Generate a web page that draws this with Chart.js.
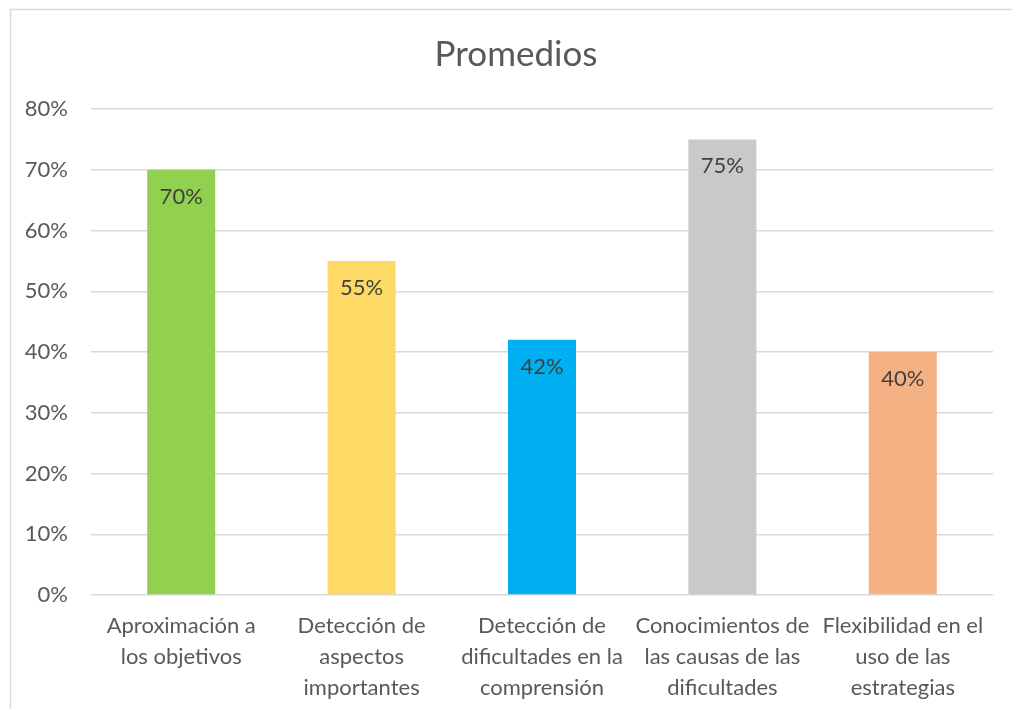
<!DOCTYPE html>
<html>
<head>
<meta charset="utf-8">
<script src="https://cdn.jsdelivr.net/npm/chart.js@4/dist/chart.umd.min.js"></script>
<style>
  html, body { margin: 0; padding: 0; background: #ffffff; }
  #wrap { position: relative; width: 1012px; height: 709px; }
</style>
</head>
<body>
<div id="wrap"><canvas id="promediosChart"></canvas></div>
<script>
// Promedios por dimensión (porcentaje)
const titulo = 'Promedios';
const categorias = [
    ['Aproximación a', 'los objetivos'],
    ['Detección de', 'aspectos', 'importantes'],
    ['Detección de', 'dificultades en la', 'comprensión'],
    ['Conocimientos de', 'las causas de las', 'dificultades'],
    ['Flexibilidad en el', 'uso de las', 'estrategias']
];
const promedios = [70, 55, 42, 75, 40];
const colores = ['#92D050', '#FFD966', '#00B0F0', '#C9C9C9', '#F4B183'];
const ejeMax = 80;
const ejePaso = 10;

const FONT = 'Lato, Calibri, sans-serif';

// Etiquetas de valor dentro del extremo de cada barra
const etiquetasValor = {
    id: 'etiquetasValor',
    afterDatasetsDraw(chart) {
        const ctx = chart.ctx;
        const meta = chart.getDatasetMeta(0);
        ctx.save();
        ctx.font = '22px ' + FONT;
        ctx.fillStyle = '#404040';
        ctx.textAlign = 'center';
        ctx.textBaseline = 'middle';
        meta.data.forEach((bar, i) => {
            ctx.fillText(promedios[i] + '%', bar.x, bar.y + 27);
        });
        ctx.restore();
    }
};

// Marco del gráfico y título centrado sobre el marco (no sobre el área de datos)
const marcoYTitulo = {
    id: 'marcoYTitulo',
    beforeDraw(chart) {
        const ctx = chart.ctx;
        ctx.save();
        ctx.strokeStyle = '#d9d9d9';
        ctx.lineWidth = 1.5;
        ctx.beginPath();
        ctx.moveTo(10.5, chart.height);
        ctx.lineTo(10.5, 9.5);
        ctx.lineTo(chart.width, 9.5);
        ctx.stroke();

        ctx.font = '35px ' + FONT;
        ctx.fillStyle = '#595959';
        ctx.textAlign = 'center';
        ctx.textBaseline = 'middle';
        ctx.fillText(titulo, 516, 55);
        ctx.restore();
    }
};

new Chart(document.getElementById('promediosChart'), {
    type: 'bar',
    data: {
        labels: categorias,
        datasets: [{
            data: promedios,
            backgroundColor: colores,
            borderWidth: 0,
            categoryPercentage: 1,
            barPercentage: 0.377
        }]
    },
    options: {
        responsive: true,
        maintainAspectRatio: false,
        animation: false,
        layout: { padding: { left: 0, right: 19, top: 109, bottom: 0 } },
        plugins: {
            legend: { display: false },
            tooltip: { enabled: false },
            title: { display: false }
        },
        scales: {
            x: {
                afterFit(scale) { scale.height = 114; },
                grid: { display: false, drawTicks: false },
                border: { display: false },
                ticks: {
                    color: '#595959',
                    font: { family: FONT, size: 22, lineHeight: 1.39 },
                    padding: 16,
                    maxRotation: 0,
                    autoSkip: false
                }
            },
            y: {
                min: 0,
                max: ejeMax,
                afterFit(scale) { scale.width = 91; },
                grid: { color: '#d9d9d9', lineWidth: 1.5, drawTicks: false },
                border: { display: false },
                ticks: {
                    stepSize: ejePaso,
                    color: '#595959',
                    font: { family: FONT, size: 22 },
                    padding: 23,
                    callback: v => v + '%'
                }
            }
        }
    },
    plugins: [marcoYTitulo, etiquetasValor]
});
</script>
</body>
</html>
